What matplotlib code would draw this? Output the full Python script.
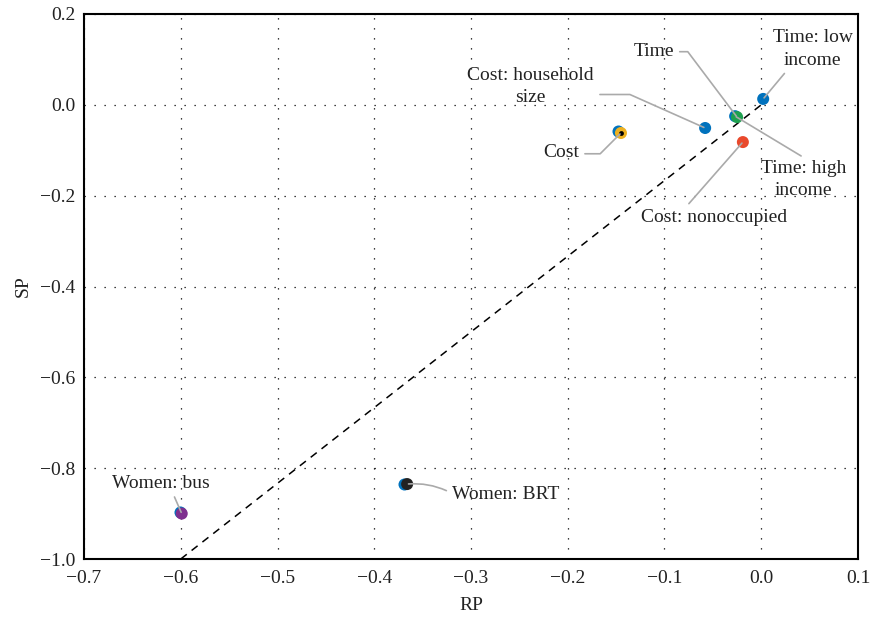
import numpy as np
import matplotlib.pyplot as plt

plt.rcParams['font.family'] = ['Liberation Serif', 'DejaVu Serif']
plt.rcParams['axes.unicode_minus'] = True

# RP / SP estimates
labels = ["Time: low\nincome", "Time: high\nincome", "Time", "Cost: household\nsize",
          "Cost", "Cost: nonoccupied", "Women: bus", "Women: BRT"]
rp = [0.002, -0.027, -0.025, -0.058, -0.145, -0.019, -0.599, -0.366]
sp = [0.013, -0.025, -0.027, -0.051, -0.062, -0.082, -0.900, -0.835]
colors = ["#0072BD", "#0072BD", "#1EA04F", "#0072BD", "#EDB120", "#E9492C", "#7E2F8E", "#222222"]

# blue points sitting just under some markers
rp_under = [-0.148, -0.601, -0.369]
sp_under = [-0.058, -0.897, -0.835]

# label placement (data coords) and leader line settings
text_x = [0.053, 0.044, -0.090, -0.239, -0.188, -0.049, -0.621, -0.320]
text_y = [0.123, -0.165, 0.117, 0.040, -0.104, -0.247, -0.833, -0.859]
text_ha = ["center", "center", "right", "center", "right", "center", "center", "left"]
relpos = [(0.2, 0.0), (0.55, 1.0), (1.0, 0.5), (1.03, 0.3), (1.0, 0.4), (0.3, 1.0), (0.62, 0.0), (0.0, 0.6)]
conn = ["arc3", "arc3", "angle,angleA=0,angleB=127,rad=0", "angle,angleA=0,angleB=156,rad=0",
        "angle,angleA=0,angleB=225,rad=0", "arc3", "arc3", "arc3,rad=0.15"]

fit_x = [-0.6, 0.0]
fit_y = [-1.0, 0.0]

fig = plt.figure(figsize=(8.72, 6.18), dpi=100)
ax = fig.add_axes([84/872, 1 - 559/618, (858 - 84)/872, (559 - 14)/618])

ax.plot(fit_x, fit_y, color='black', linestyle=(0, (5, 4)), linewidth=1.1, zorder=2)
ax.scatter(rp_under, sp_under, s=75, color="#0072BD", zorder=3, linewidths=0)
ax.scatter(rp, sp, s=75, c=colors, zorder=4, linewidths=0)
ax.scatter([rp[4]], [sp[4]], s=12, color='black', zorder=5, linewidths=0)

for i in range(len(labels)):
    ax.annotate(labels[i], xy=(rp[i], sp[i]), xytext=(text_x[i], text_y[i]),
                ha=text_ha[i], va='center', fontsize=14, color='#222222',
                linespacing=1.4,
                arrowprops=dict(arrowstyle='-', color='#AAAAAA', lw=1.2,
                                relpos=relpos[i], connectionstyle=conn[i],
                                shrinkA=2, shrinkB=1),
                zorder=6)

ax.set_xlim(-0.7, 0.1)
ax.set_ylim(-1.0, 0.2)
xt = np.arange(-0.7, 0.11, 0.1)
yt = np.arange(-1.0, 0.21, 0.2)
ax.set_xticks(xt)
ax.set_yticks(yt)
ax.set_xticklabels([f"{v:.1f}".replace("-", "\u2212") if abs(v) > 1e-9 else "0.0" for v in xt])
ax.set_yticklabels([f"{v:.1f}".replace("-", "\u2212") if abs(v) > 1e-9 else "0.0" for v in yt])
ax.tick_params(length=0, labelsize=14, colors='#222222')
ax.tick_params(axis='x', pad=8)
ax.tick_params(axis='y', pad=6)
ax.grid(True, color='black', linestyle=(0, (1, 7)), linewidth=0.9)
for s in ax.spines.values():
    s.set_linewidth(1.5)

ax.set_xlabel("RP", fontsize=14, color='#222222', labelpad=7)
ax.set_ylabel("SP", fontsize=14, color='#222222', labelpad=6)

plt.savefig("out.png", dpi=100)
